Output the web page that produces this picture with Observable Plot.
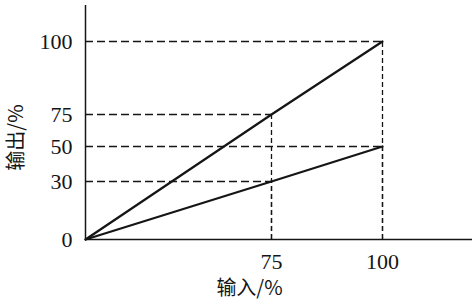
<!DOCTYPE html>
<html>
<head>
<meta charset="utf-8">
<script src="https://cdn.jsdelivr.net/npm/d3@7"></script>
<script src="https://cdn.jsdelivr.net/npm/@observablehq/plot@0.6"></script>
<style>
  html, body { margin: 0; padding: 0; background: #fff; }
</style>
</head>
<body>
<div id="chart"></div>
<script>
// Data
const inputs = [0, 75, 100];            // 输入 /%
const upperOutput = [0, 75, 100];        // 输出 /% (upper line)
const lowerOutput = [0, 30, 50];         // 输出 /% (lower line)
const xTicks = [75, 100];
const yTicks = [0, 30, 50, 75, 100];
const xLabel = "输入/%";
const yLabel = "输出/%";

const upper = inputs.map((x, i) => ({x, y: upperOutput[i]}));
const lower = inputs.map((x, i) => ({x, y: lowerOutput[i]}));
const guidePts = [...upper, ...lower].filter(d => d.x > 0);

const ink = "#151515";

const chart = Plot.plot({
  width: 473,
  height: 305,
  marginLeft: 85,
  marginRight: 1,
  marginTop: 5,
  marginBottom: 66,
  style: {fontFamily: "'Liberation Serif', serif", fontSize: "22px", background: "#fff", color: ink},
  x: {type: "linear", domain: [0, 75, 100], range: [85, 271, 382]},
  y: {type: "linear", domain: [0, 30, 50, 75, 100], range: [239, 181, 146, 114, 41]},
  marks: [
    // dashed guides
    Plot.ruleY(guidePts, {y: "y", x1: 0, x2: "x", stroke: ink, strokeWidth: 1.3, strokeDasharray: "8,4"}),
    Plot.ruleX(guidePts, {x: "x", y1: 0, y2: "y", stroke: ink, strokeWidth: 1.3, strokeDasharray: "5,3"}),
    // axes lines
    Plot.ruleX([0], {stroke: ink, strokeWidth: 1.5}),
    Plot.ruleY([0], {stroke: ink, strokeWidth: 1.5}),
    // data lines
    Plot.line(upper, {x: "x", y: "y", stroke: ink, strokeWidth: 2.2}),
    Plot.line(lower, {x: "x", y: "y", stroke: ink, strokeWidth: 2.2}),
    // tick labels
    Plot.axisY({ticks: yTicks, tickSize: 0, tickPadding: 13, label: null, fontSize: 22, fill: ink}),
    Plot.axisX({ticks: xTicks, tickSize: 0, tickPadding: 14, label: null, fontSize: 22, fill: ink}),
    // axis titles
    Plot.text([xLabel], {frameAnchor: "bottom-left", dx: 164, dy: 49, text: d => d, textAnchor: "middle", lineAnchor: "middle",
      fontFamily: "'Noto Sans CJK SC', sans-serif", fontSize: 20, fill: ink}),
    Plot.text([yLabel], {frameAnchor: "left", dx: -69, dy: 15, rotate: -90, text: d => d, textAnchor: "middle", lineAnchor: "middle",
      fontFamily: "'Noto Sans CJK SC', sans-serif", fontSize: 20, fill: ink})
  ]
});
document.getElementById("chart").appendChild(chart);
</script>
</body>
</html>
